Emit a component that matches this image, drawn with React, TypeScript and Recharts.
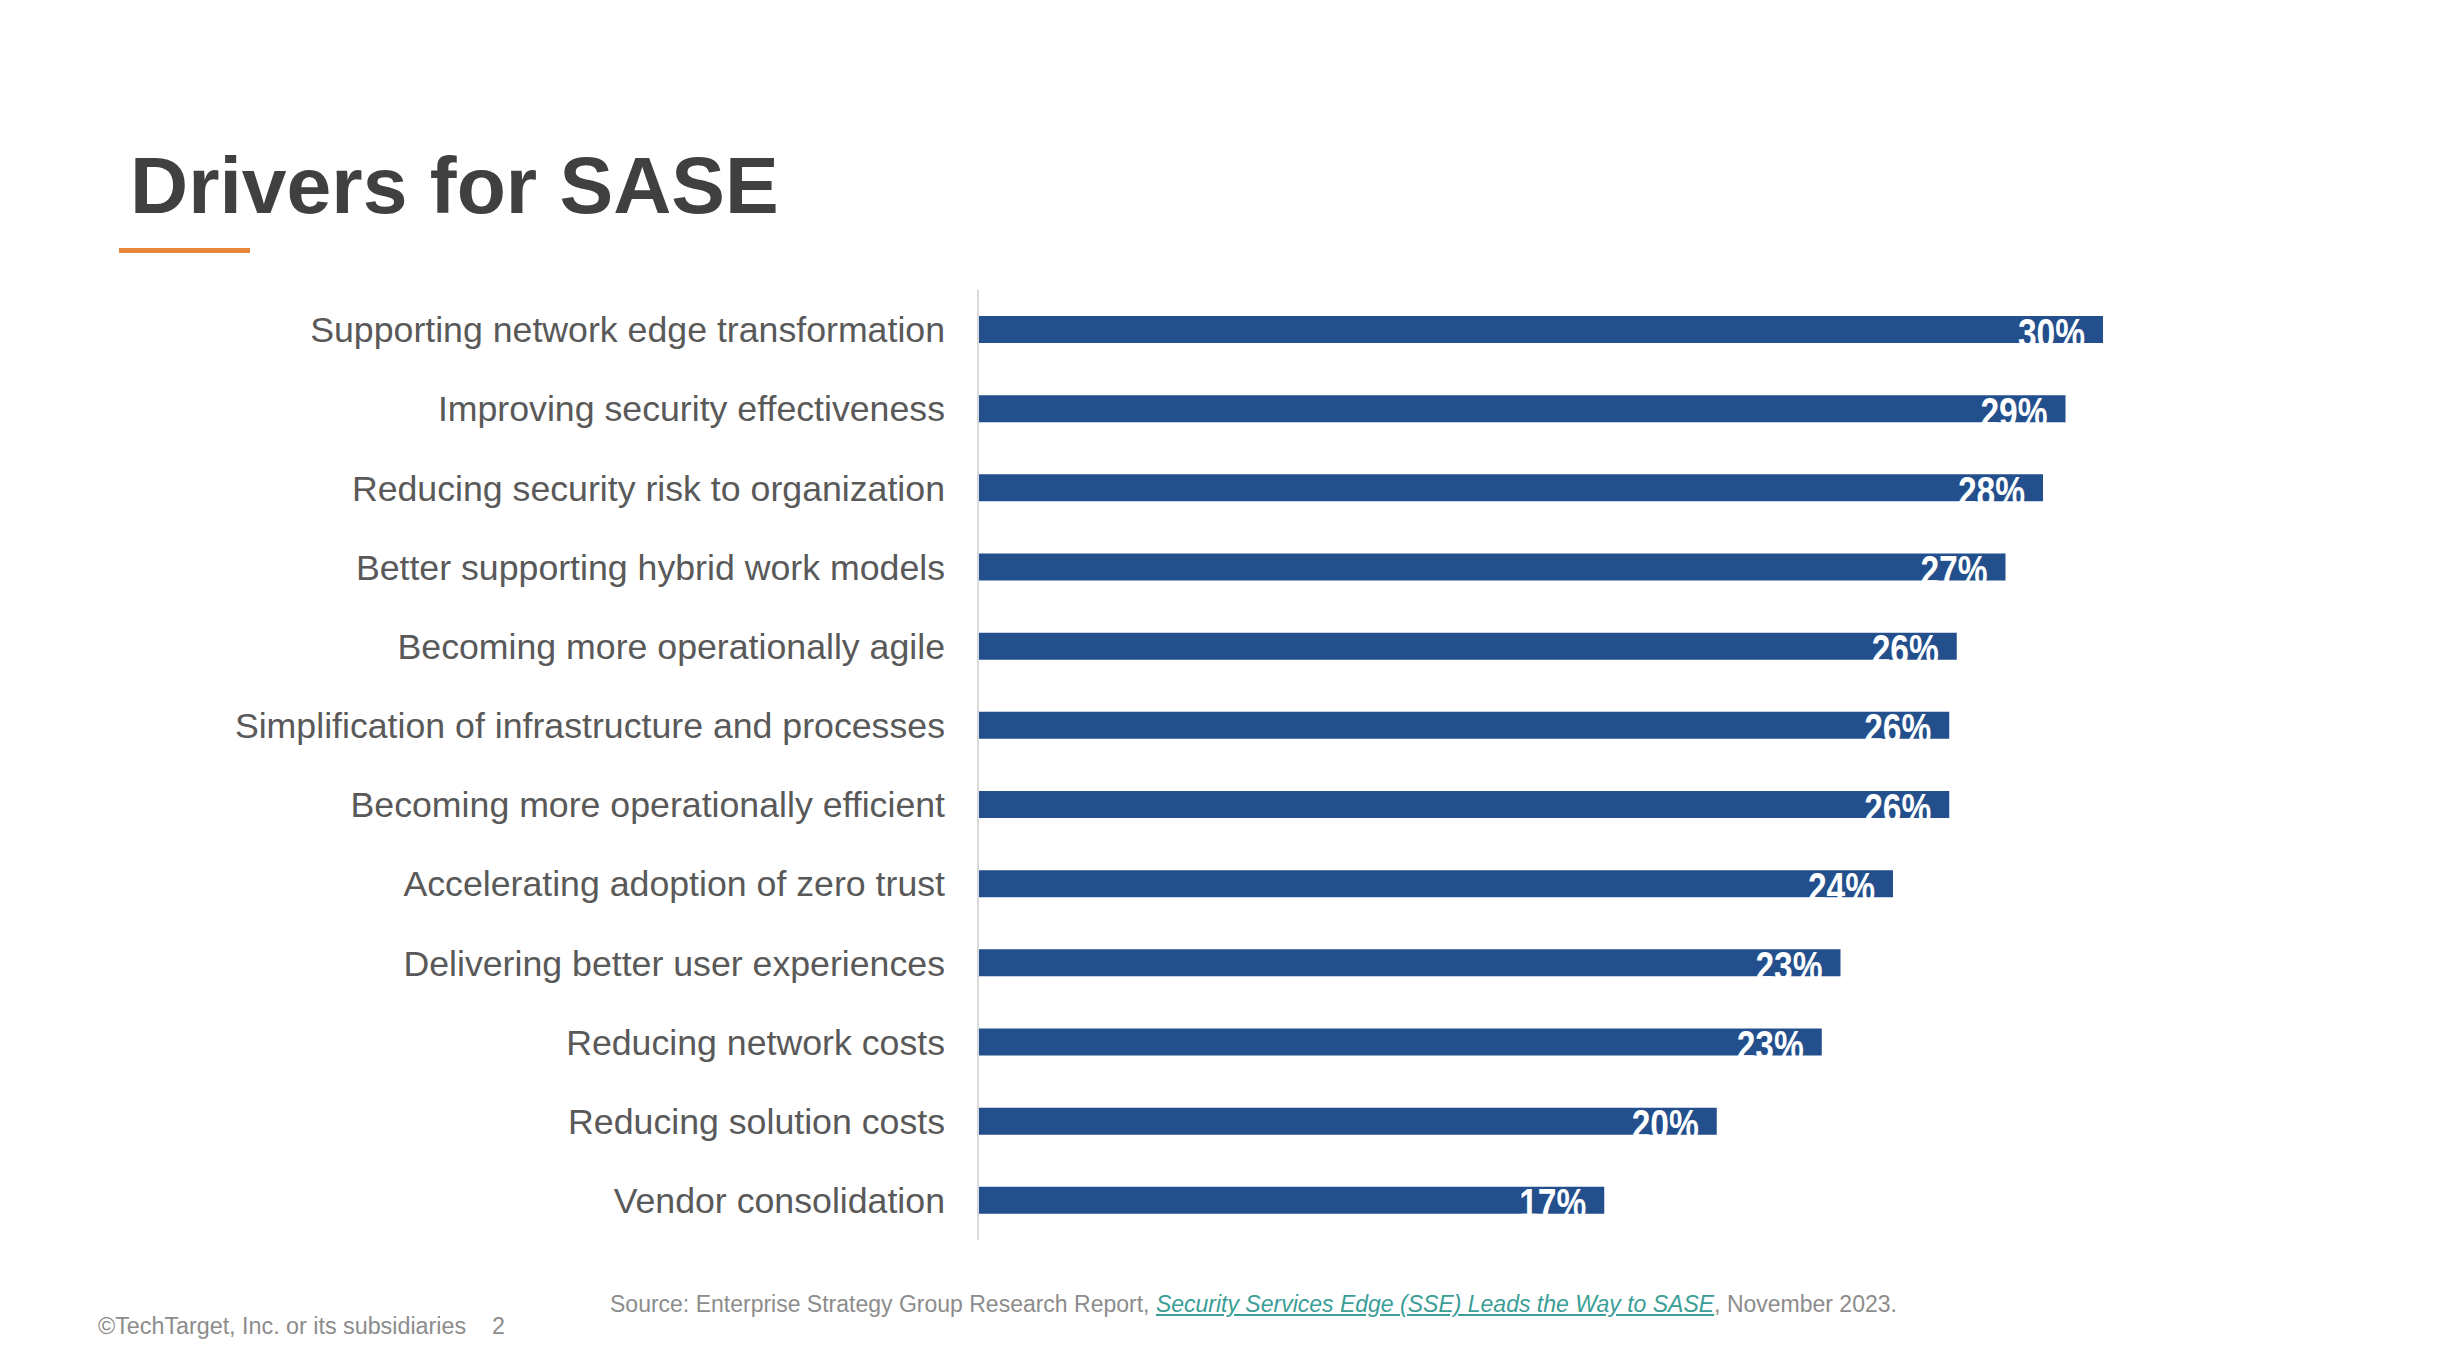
import React from 'react'
import { BarChart, Bar, XAxis, YAxis, LabelList } from 'recharts'

// drivers, top to bottom, with the share of respondents (%)
const drivers = [
  'Supporting network edge transformation',
  'Improving security effectiveness',
  'Reducing security risk to organization',
  'Better supporting hybrid work models',
  'Becoming more operationally agile',
  'Simplification of infrastructure and processes',
  'Becoming more operationally efficient',
  'Accelerating adoption of zero trust',
  'Delivering better user experiences',
  'Reducing network costs',
  'Reducing solution costs',
  'Vendor consolidation',
]
const shares = [30.0, 29.0, 28.4, 27.4, 26.1, 25.9, 25.9, 24.4, 23.0, 22.5, 19.7, 16.7]

const chartData = drivers.map((name, i) => ({ name, value: shares[i] }))

const BAR = '#234F8C'
const FONT = '"Liberation Sans", Arial, sans-serif'

function ValueLabel(props: any) {
  const { x, y, width, height, value } = props
  const tx = x + width - 18
  const ty = y + height / 2 + 3
  // squeezed bold label, like the condensed face in the slide
  return (
    <text
      transform={`translate(${tx},${ty}) scale(0.78,1)`}
      x={0}
      y={0}
      textAnchor="end"
      dominantBaseline="central"
      fill="#ffffff"
      fontFamily={FONT}
      fontWeight="bold"
      fontSize={43}
    >
      {Math.round(value)}%
    </text>
  )
}

export default function App() {
  return (
    <div style={{ position: 'relative', width: 2452, height: 1372, background: '#fff', fontFamily: FONT, overflow: 'hidden' }}>
      <style>{'body{margin:0}'}</style>
      <div style={{ position: 'absolute', left: 130, top: 145, fontSize: 80.5, fontWeight: 'bold', color: '#404040', lineHeight: 1 }}>
        Drivers for SASE
      </div>
      <div style={{ position: 'absolute', left: 119, top: 248, width: 131, height: 5, background: '#E8863A' }} />

      <div style={{ position: 'absolute', left: 0, top: 0 }}>
        <BarChart
          layout="vertical"
          width={2452}
          height={1372}
          data={chartData}
          margin={{ top: 290, right: 349, bottom: 132, left: 0 }}
          barSize={27}
        >
          <XAxis type="number" domain={[0, 30]} hide />
          <YAxis
            type="category"
            dataKey="name"
            width={978}
            tickLine={false}
            tickSize={0}
            tickMargin={33}
            axisLine={{ stroke: '#d9d9d9', strokeWidth: 2 }}
            tick={{ fill: '#595959', fontSize: 35.7, fontFamily: FONT }}
            interval={0}
          />
          <Bar dataKey="value" fill={BAR} isAnimationActive={false}>
            <LabelList dataKey="value" content={ValueLabel} />
          </Bar>
        </BarChart>
      </div>

      <div style={{ position: 'absolute', left: 610, top: 1291, fontSize: 23, color: '#8c8c8c', whiteSpace: 'nowrap' }}>
        Source: Enterprise Strategy Group Research Report,{' '}
        <span style={{ color: '#3A9E96', fontStyle: 'italic', textDecoration: 'underline' }}>
          Security Services Edge (SSE) Leads the Way to SASE
        </span>
        , November 2023.
      </div>
      <div style={{ position: 'absolute', left: 98, top: 1313, fontSize: 23.3, color: '#8c8c8c', whiteSpace: 'pre' }}>
        {'©TechTarget, Inc. or its subsidiaries    2'}
      </div>
    </div>
  )
}
